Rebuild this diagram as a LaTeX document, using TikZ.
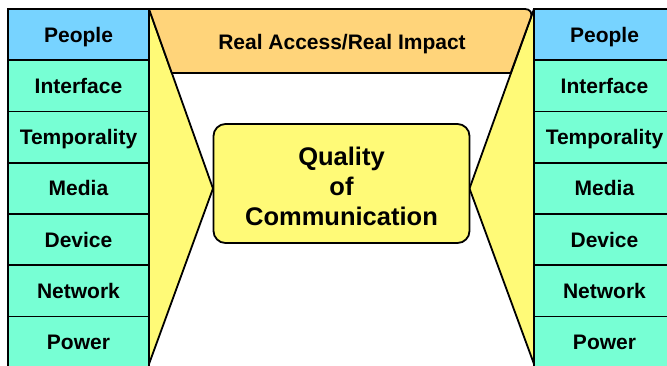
\documentclass[tikz,border=0pt]{standalone}
\usepackage{fontspec}
\setmainfont{Liberation Sans}
\definecolor{cellblue}{RGB}{119,211,255}
\definecolor{cellmint}{RGB}{119,255,212}
\definecolor{funnelyellow}{RGB}{255,250,119}
\definecolor{roofgold}{RGB}{255,212,122}
\tikzset{
  cell/.style={draw,line width=1.8pt,fill=cellmint,minimum width=141pt,
    minimum height=51.25pt,inner sep=0pt,text height=15pt,text depth=0pt},
  headcell/.style={cell,fill=cellblue},
  funnel/.style={draw,line width=1.8pt,fill=funnelyellow,line join=round},
}
\begin{document}
\begin{tikzpicture}[x=1pt,y=-1pt,font=\fontsize{21}{24}\selectfont\bfseries]
  \useasboundingbox (0,0) rectangle (667,365);
  \clip (0,0) rectangle (667,365);
  \coordinate (ltop) at (149,9); % top of left funnel
  \coordinate (lapex) at (213,188.5); % left funnel tip
  \coordinate (lbot) at (149,364); % bottom of left funnel
  \coordinate (rtop) at (534,9); % top of right funnel
  \coordinate (rapex) at (469.5,188.5); % right funnel tip
  \coordinate (rbot) at (534,364); % bottom of right funnel
  \draw [funnel] (ltop) -- (lapex) -- (lbot) -- cycle; % left funnel
  \draw [funnel] (rtop) -- (rapex) -- (rbot) -- cycle; % right funnel
  \draw [line width=1.8pt,fill=roofgold] (171.8,73) -- (ltop)
    [rounded corners=9pt] -- (rtop) [sharp corners] -- (510.7,73) -- cycle; % roof
  \node [text height=15pt,text depth=0pt] (roof) at (342,42) {Real Access/Real Impact}; % roof label
  \node [draw,line width=1.8pt,fill=funnelyellow,rounded corners=12pt,
    minimum width=256pt,minimum height=119pt,align=center,
    font=\fontsize{25.5}{30}\selectfont\bfseries]
    (quality) at (341.5,183.5) {}; % centre box
  \node [align=center,font=\fontsize{25.5}{30}\selectfont\bfseries]
    (qtext) at (341.5,186) {Quality\\of\\Communication}; % centre text
  \node [headcell] (l1) at (78.5,34.6) {People}; % left head
  \node [headcell] (r1) at (604.5,34.6) {People}; % right head
  \foreach \lab [count=\i from 2] in
    {Interface,Temporality,Media,Device,Network,Power} {
    \node [cell] (l\i) at (78.5,{9+51.25*(\i-0.5)}) {\lab}; % left column
    \node [cell] (r\i) at (604.5,{9+51.25*(\i-0.5)}) {\lab}; % right column
  }
\end{tikzpicture}
\end{document}
